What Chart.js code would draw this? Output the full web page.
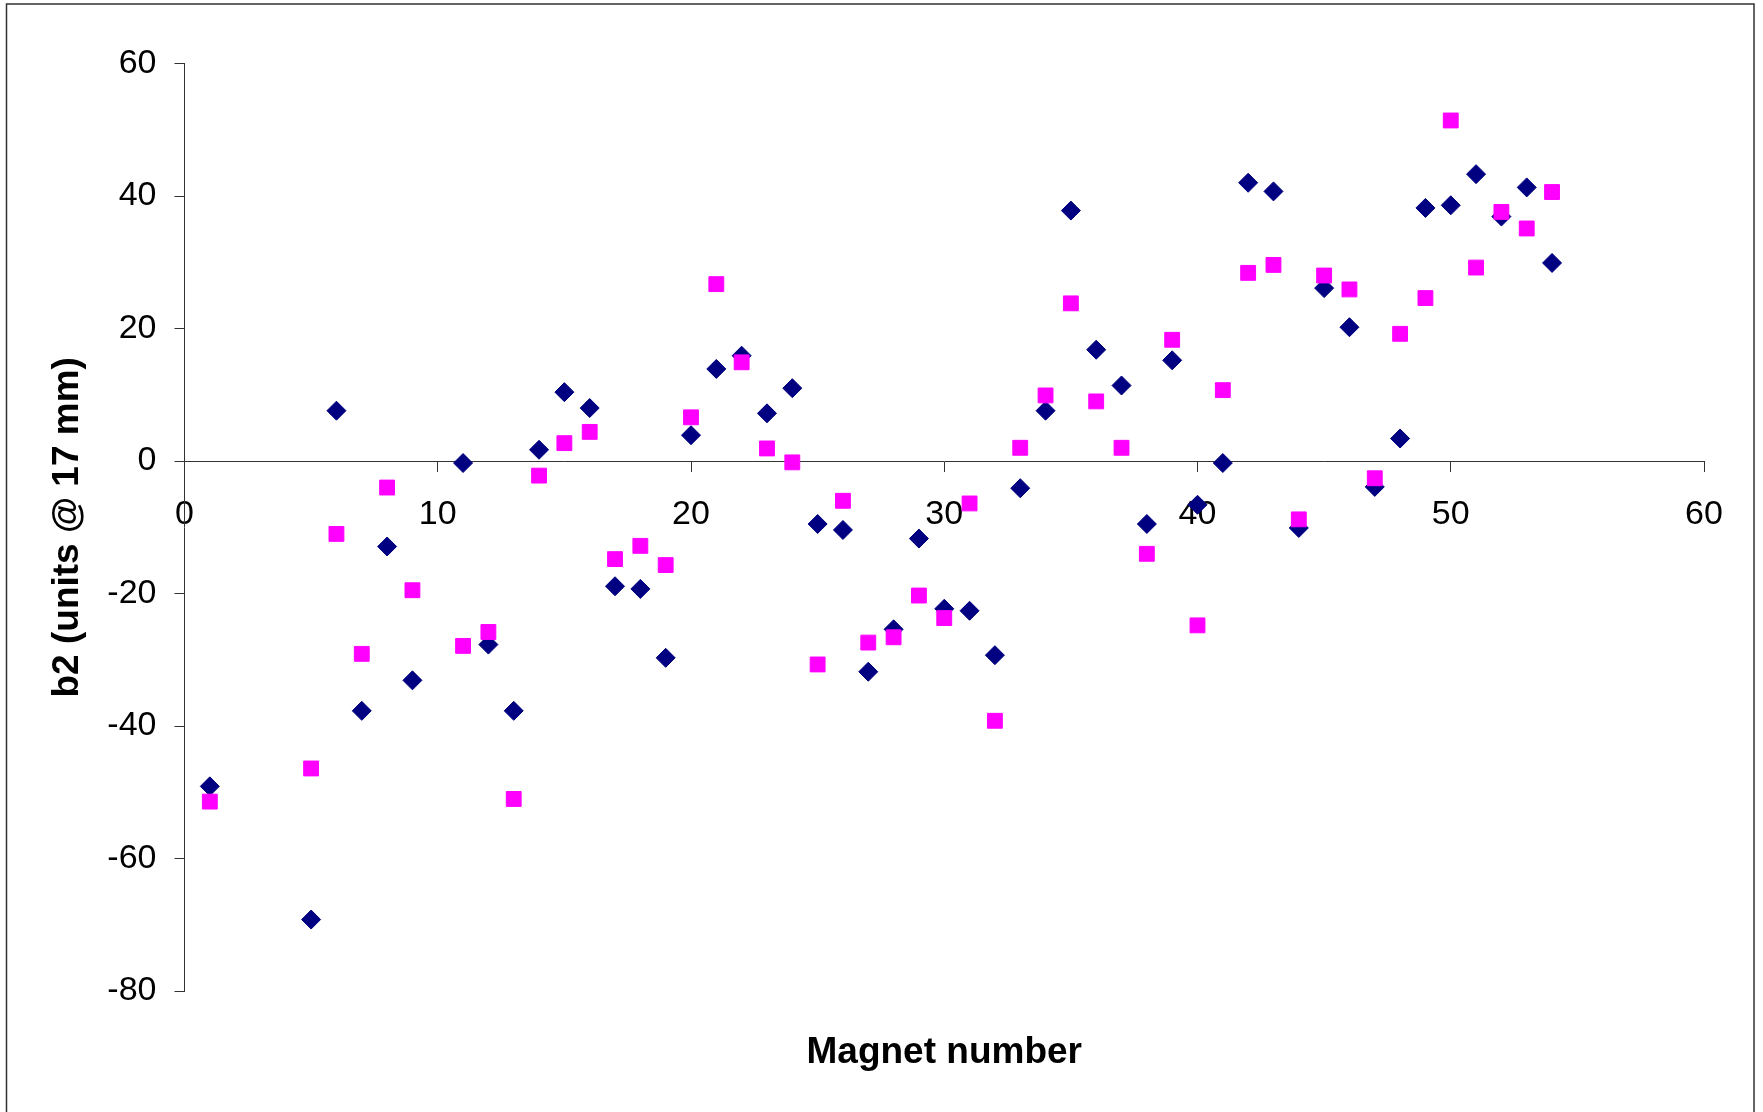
<!DOCTYPE html>
<html>
<head>
<meta charset="utf-8">
<script src="https://cdn.jsdelivr.net/npm/chart.js@4.4.1/dist/chart.umd.min.js"></script>
<style>
  html, body { margin: 0; padding: 0; background: #fff; }
  #wrap { width: 1763px; height: 1112px; }
</style>
</head>
<body>
<div id="wrap"><canvas id="myChart" width="1763" height="1112"></canvas></div>
<script>
// magnet numbers (same for both series)
const magnets = [1, 5, 6, 7, 8, 9, 11, 12, 13, 14, 15, 16, 17, 18, 19, 20, 21, 22, 23, 24,
  25, 26, 27, 28, 29, 30, 31, 32, 33, 34, 35, 36, 37, 38, 39, 40, 41, 42, 43, 44,
  45, 46, 47, 48, 49, 50, 51, 52, 53, 54];

// b2 values, navy diamonds
const b2Blue = [-49.1, -69.2, 7.6, -37.7, -12.9, -33.1, -0.3, -27.7, -37.7, 1.7, 10.4, 8.0, -18.9, -19.3, -29.7, 3.9, 13.9, 15.9, 7.2, 11.0,
  -9.5, -10.4, -31.8, -25.4, -11.7, -22.3, -22.6, -29.3, -4.1, 7.6, 37.8, 16.8, 11.4, -9.5, 15.2, -6.6, -0.3, 42.0, 40.7, -10.1,
  26.1, 20.2, -3.9, 3.4, 38.2, 38.6, 43.3, 36.9, 41.3, 29.9];

// b2 values, magenta squares
const b2Pink = [-51.4, -46.4, -11.0, -29.1, -4.0, -19.5, -27.9, -25.8, -51.0, -2.2, 2.7, 4.4, -14.8, -12.8, -15.7, 6.6, 26.7, 14.9, 1.9, -0.2,
  -30.7, -6.0, -27.4, -26.6, -20.3, -23.7, -6.4, -39.2, 2.0, 9.9, 23.8, 9.0, 2.0, -14.0, 18.3, -24.8, 10.7, 28.4, 29.6, -8.8,
  28.0, 25.9, -2.6, 19.2, 24.6, 51.4, 29.2, 37.6, 35.1, 40.6];

const xTicks = [0, 10, 20, 30, 40, 50, 60];
const yTicks = [-80, -60, -40, -20, 0, 20, 40, 60];

const toPoints = (ys) => magnets.map((m, i) => ({ x: m, y: ys[i] }));

const FONT = "'Liberation Sans', Arial, sans-serif";
const AXIS = '#333';

// outer frame like the spreadsheet chart border
const framePlugin = {
  id: 'frame',
  beforeDraw(chart) {
    const c = chart.ctx;
    c.save();
    c.fillStyle = '#fff';
    c.fillRect(0, 0, chart.width, chart.height);
    c.strokeStyle = '#333';
    c.lineWidth = 1.5;
    c.strokeRect(6.5, 4, 1747.5, 1200);
    c.restore();
  }
};

var ctx = document.getElementById("myChart").getContext("2d");
var myChart = new Chart(ctx, {
  type: 'scatter',
  data: {
    datasets: [{
      label: 'Series 2',
      data: toPoints(b2Pink),
      pointStyle: 'rect',
      pointRadius: 10.5,
      pointBackgroundColor: '#FF00FF',
      pointBorderColor: '#FF00FF',
      pointBorderWidth: 1,
      order: 1
    }, {
      label: 'Series 1',
      data: toPoints(b2Blue),
      pointStyle: 'rectRot',
      pointRadius: 9.5,
      pointBackgroundColor: '#000080',
      pointBorderColor: '#000080',
      pointBorderWidth: 1,
      order: 2
    }]
  },
  options: {
    responsive: false,
    animation: false,
    layout: { padding: { left: 0, top: 63.5, right: 59, bottom: 0 } },
    plugins: {
      legend: { display: false },
      tooltip: { enabled: false },
      title: {
        display: true,
        position: 'bottom',
        fullSize: false,
        text: 'Magnet number',
        color: '#000',
        font: { family: FONT, size: 37, weight: 'bold' },
        padding: { top: 39.5, bottom: 37 }
      }
    },
    scales: {
      x: {
        type: 'linear',
        position: { y: 0 },
        min: 0,
        max: 60,
        afterBuildTicks: (scale) => { scale.ticks = xTicks.map(v => ({ value: v })); },
        ticks: {
          color: '#000',
          font: { family: FONT, size: 34 },
          padding: 23,
          maxRotation: 0
        },
        grid: { drawOnChartArea: false, tickLength: 10, color: AXIS, lineWidth: 1 },
        border: { display: true, color: AXIS, width: 1 }
      },
      y: {
        type: 'linear',
        position: 'left',
        min: -80,
        max: 60,
        afterBuildTicks: (scale) => { scale.ticks = yTicks.map(v => ({ value: v })); },
        afterFit: (scale) => { scale.width = 184.5; },
        ticks: {
          color: '#000',
          font: { family: FONT, size: 34 },
          padding: 18
        },
        grid: { drawOnChartArea: false, tickLength: 10, color: AXIS, lineWidth: 1 },
        border: { display: true, color: AXIS, width: 1 },
        title: {
          display: true,
          text: 'b2 (units @ 17 mm)',
          color: '#000',
          font: { family: FONT, size: 37, weight: 'bold' },
          padding: { top: 46, bottom: 0 }
        }
      }
    }
  },
  plugins: [framePlugin]
});
</script>
</body>
</html>
